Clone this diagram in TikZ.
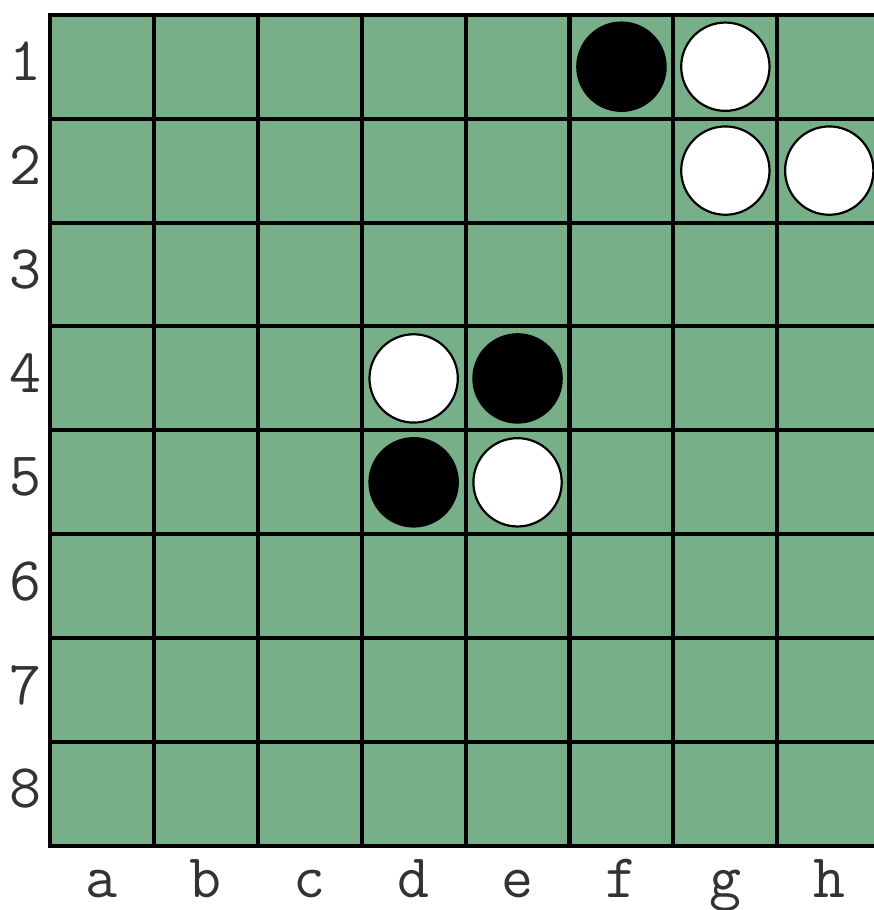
\documentclass[tikz,border=0pt]{standalone}
\usepackage{fontspec}
\usepackage{xcolor}
\usepackage{tikz}

\definecolor{boardgreen}{RGB}{119,175,136}

\begin{document}
\begin{tikzpicture}[
    whitedisc/.style={circle, draw, line width=0.6pt, fill=white, minimum size=0.85cm, inner sep=0pt},
    blackdisc/.style={circle, draw, line width=0.6pt, fill=black, minimum size=0.85cm, inner sep=0pt},
    gridline/.style={line width=1.1pt, line cap=rect},
    rowlabel/.style={font=\ttfamily\fontsize{17}{17}\selectfont, text=black!80, inner sep=0pt},
    collabel/.style={font=\ttfamily\fontsize{17}{17}\selectfont, text=black!80, inner sep=0pt, anchor=base}
]
\useasboundingbox (-0.481,-0.616) rectangle (7.921,8.142);

% board and grid
\fill[boardgreen] (0,0) rectangle (8,8);
\foreach \i in {0,...,8} {
  \draw[gridline] (\i,0) -- (\i,8);
  \draw[gridline] (0,\i) -- (8,\i);
}

% row and column labels
\foreach \r in {1,...,8}
  \node[rowlabel] (row\r) at (-0.24, 8.55-\r) {\r};
\foreach \c [count=\i] in {a,...,h}
  \node[collabel] (col\c) at (\i-0.5, -0.5) {\c};

% discs
\node[blackdisc] (f1) at (5.5,7.5) {};
\node[whitedisc] (g1) at (6.5,7.5) {};
\node[whitedisc] (g2) at (6.5,6.5) {};
\node[whitedisc] (h2) at (7.5,6.5) {};
\node[whitedisc] (d4) at (3.5,4.5) {};
\node[blackdisc] (e4) at (4.5,4.5) {};
\node[blackdisc] (d5) at (3.5,3.5) {};
\node[whitedisc] (e5) at (4.5,3.5) {};

\end{tikzpicture}
\end{document}
